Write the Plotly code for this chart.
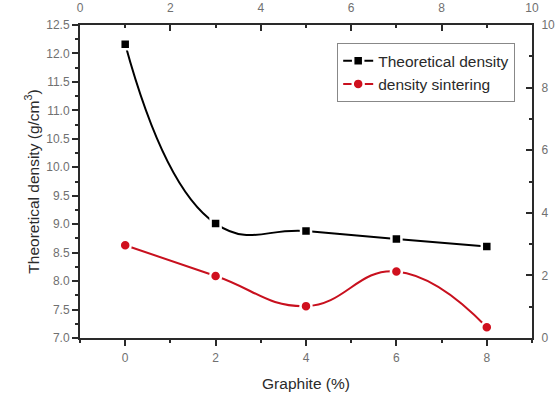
import plotly.graph_objects as go

graphite = [0, 2, 4, 6, 8]
theoretical_density = [12.16, 9.01, 8.88, 8.74, 8.61]
density_sintering = [8.63, 8.09, 7.56, 8.17, 7.19]

FONT = "Arial, Liberation Sans, sans-serif"
AX = "#2a2a2a"
TICKC = "#707070"

fig = go.Figure()
fig.add_trace(go.Scatter(
    x=graphite, y=theoretical_density, name="Theoretical density",
    mode="lines+markers", line=dict(color="black", width=2, shape="spline", smoothing=1.3),
    marker=dict(symbol="square", size=10, color="black", line=dict(color="white", width=2.5)),
))
fig.add_trace(go.Scatter(
    x=graphite, y=density_sintering, name="density sintering",
    mode="lines+markers", line=dict(color="#c8101e", width=2, shape="spline", smoothing=1.3),
    marker=dict(symbol="circle", size=11, color="#d0101e", line=dict(color="white", width=2.5)),
))
# carrier for secondary axes
fig.add_trace(go.Scatter(x=[None], y=[None], xaxis="x2", yaxis="y2", showlegend=False, hoverinfo="skip"))

common = dict(showline=True, linecolor=AX, linewidth=2, showgrid=False, zeroline=False, automargin=False,
              tickfont=dict(family=FONT, size=12, color=TICKC), ticklen=6, tickwidth=1.5, tickcolor=AX)
TITLEFONT = dict(family=FONT, size=15.5, color="#2a2a2a")

fig.update_layout(
    width=560, height=394,
    margin=dict(l=80, r=28, t=25, b=56, autoexpand=False),
    paper_bgcolor="white", plot_bgcolor="white",
    font=dict(family=FONT, color="#333"),
    xaxis=dict(range=[-1, 9], dtick=2, tick0=0, ticks="outside", ticklabelstandoff=2,
               minor=dict(dtick=1, ticklen=3, ticks="outside", tickcolor=AX),
               title=dict(text="Graphite (%)", font=TITLEFONT, standoff=14),
               **common),
    xaxis2=dict(range=[0, 10], dtick=2, tick0=0, ticks="inside", overlaying="x", side="top",
                ticklabelstandoff=6,
                minor=dict(dtick=1, ticklen=3, ticks="inside", tickcolor=AX),
                **common),
    yaxis=dict(range=[7, 12.5], dtick=0.5, tick0=7, ticks="outside", tickformat=".1f",
               minor=dict(dtick=0.25, ticklen=3, ticks="outside", tickcolor=AX),
               title=dict(text="Theoretical density (g/cm<sup>3</sup>)", font=TITLEFONT, standoff=3),
               **common),
    yaxis2=dict(range=[0, 10], dtick=2, tick0=0, ticks="inside", overlaying="y", side="right",
                ticklabelstandoff=5,
                minor=dict(dtick=1, ticklen=3, ticks="inside", tickcolor=AX),
                **common),
    legend=dict(x=0.569, y=0.942, xanchor="left", yanchor="top",
                bgcolor="white", bordercolor="#888", borderwidth=1,
                font=dict(family=FONT, size=15.5, color="#2a2a2a"),
                tracegroupgap=0, itemwidth=30),
    showlegend=True,
)

fig.write_html("out.html", config={"displayModeBar": False},
               post_script="document.body.style.margin='0';document.body.style.overflow='hidden';")
